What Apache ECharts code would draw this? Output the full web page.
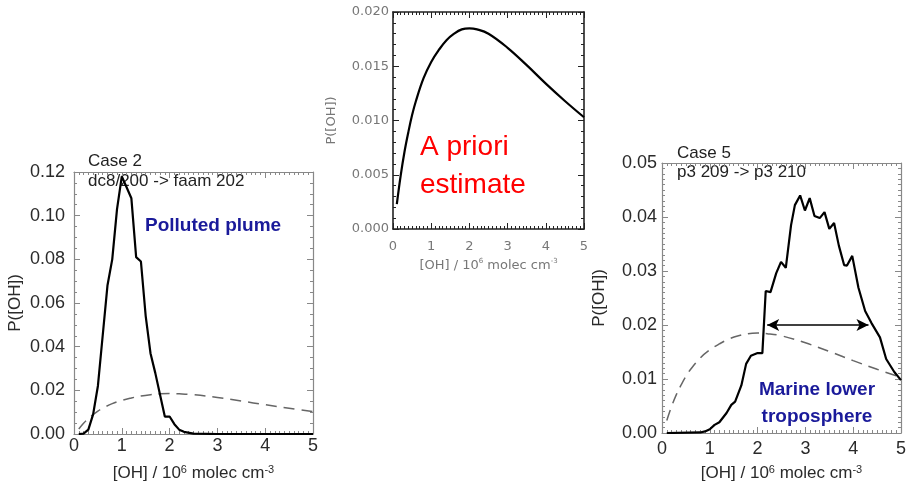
<!DOCTYPE html>
<html>
<head>
<meta charset="utf-8">
<script src="https://cdn.jsdelivr.net/npm/echarts@6/dist/echarts.min.js"></script>
<style>
  html, body { margin: 0; padding: 0; background: #fff; }
  #main { width: 909px; height: 487px; }
</style>
</head>
<body>
<div id="main"></div>
<script>
// a priori curve (same in all three panels)
var priorX = [0.1, 0.2, 0.3, 0.4, 0.5, 0.6, 0.8, 1.0, 1.2, 1.4, 1.6, 1.8, 2.0, 2.2, 2.5, 3.0, 3.5, 4.0, 4.5, 5.0];
var priorY = [0.0023, 0.0049, 0.0071, 0.0089, 0.0105, 0.0118, 0.0139, 0.0154, 0.0165, 0.0174, 0.0180, 0.0184, 0.0185, 0.0184, 0.0180, 0.0167, 0.0151, 0.0134, 0.0118, 0.0103];

// Case 2 : dc8/200 -> faam 202
var case2X = [0.1, 0.2, 0.3, 0.4, 0.5, 0.6, 0.7, 0.8, 0.9, 1.0, 1.1, 1.2, 1.3, 1.4, 1.5, 1.6, 1.7, 1.8, 1.9, 2.0, 2.1, 2.2, 2.3, 2.5, 3.0, 4.0, 5.0];
var case2Y = [0, 0.0002, 0.002, 0.009, 0.022, 0.045, 0.068, 0.080, 0.103, 0.118, 0.113, 0.108, 0.081, 0.079, 0.054, 0.037, 0.028, 0.018, 0.008, 0.008, 0.0045, 0.002, 0.001, 0.0002, 0, 0, 0];

// Case 5 : p3 209 -> p3 210
var case5X = [0.1, 0.8, 0.9, 1.0, 1.1, 1.2, 1.35, 1.45, 1.53, 1.66, 1.76, 1.86, 2.0, 2.1, 2.17, 2.27, 2.39, 2.49, 2.59, 2.7,
              2.78, 2.89, 2.99, 3.09, 3.19, 3.3, 3.4, 3.5, 3.6, 3.7, 3.81, 3.87, 3.98, 4.11, 4.25, 4.38, 4.56, 4.69, 4.86, 5.0];
var case5Y = [0, 0.0001, 0.0003, 0.0007, 0.0015, 0.002, 0.0037, 0.0052, 0.0058, 0.0088, 0.0128, 0.0143, 0.0148, 0.0148, 0.0263, 0.0261, 0.0296, 0.0317, 0.0306, 0.0385,
              0.0422, 0.0440, 0.0412, 0.0435, 0.0402, 0.0398, 0.0409, 0.0378, 0.0389, 0.0347, 0.0311, 0.0310, 0.0328, 0.0269, 0.0226, 0.0204, 0.0177, 0.0137, 0.0113, 0.0098];

// width arrow on case 5
var arrowX = [2.2, 4.32];
var arrowY = 0.02;

var xTicks = [0, 5, 1];
var yTicks2 = [0, 0.12, 0.02];
var yTicksPrior = [0, 0.02, 0.005];
var yTicks5 = [0, 0.05, 0.01];

function zip(xs, ys) {
    var out = [];
    for (var i = 0; i < xs.length; i++) out.push([xs[i], ys[i]]);
    return out;
}

var xName = '[OH] / 10{s|6} molec cm{s|-3}';

function axes(g, xt, yt, dec, st) {
    // st: style for this panel
    var line = { show: true, onZero: false, lineStyle: { color: st.axisColor, width: st.axisWidth } };
    var tick = { show: true, inside: true, length: 6, lineStyle: { color: st.axisColor } };
    var xMinor = { show: true, splitNumber: 10, length: 3, lineStyle: { color: st.axisColor } };
    var yMinor = { show: true, splitNumber: st.yMinor, length: 3, lineStyle: { color: st.axisColor } };
    var xs = [{
        type: 'value', gridIndex: g, min: xt[0], max: xt[1], interval: xt[2],
        axisLine: line, axisTick: tick, minorTick: xMinor,
        splitLine: { show: false },
        axisLabel: { fontFamily: st.font, fontSize: st.labelSize, color: st.labelColor, margin: st.xMargin },
        name: xName, nameLocation: 'middle', nameGap: st.xNameGap,
        nameTextStyle: {
            fontFamily: st.font, fontSize: st.nameSize, color: st.labelColor,
            rich: { s: { fontFamily: st.font, fontSize: st.nameSize - 6, color: st.labelColor, verticalAlign: 'top', padding: [0, 0, 8, 0] } }
        }
    }, {
        type: 'value', gridIndex: g, position: 'top', min: xt[0], max: xt[1], interval: xt[2],
        axisLine: line, axisTick: tick, minorTick: xMinor,
        splitLine: { show: false }, axisLabel: { show: false }
    }];
    var ys = [{
        type: 'value', gridIndex: g, min: yt[0], max: yt[1], interval: yt[2],
        axisLine: line, axisTick: tick, minorTick: yMinor,
        splitLine: { show: false },
        axisLabel: {
            fontFamily: st.font, fontSize: st.labelSize, color: st.labelColor, margin: st.yMargin,
            formatter: function (v) { return v.toFixed(dec); }
        },
        name: 'P([OH])', nameLocation: 'middle', nameGap: st.yNameGap,
        nameTextStyle: { fontFamily: st.font, fontSize: st.nameSize, color: st.labelColor }
    }, {
        type: 'value', gridIndex: g, position: 'right', min: yt[0], max: yt[1], interval: yt[2],
        axisLine: line, axisTick: tick, minorTick: yMinor,
        splitLine: { show: false }, axisLabel: { show: false }
    }];
    return { x: xs, y: ys };
}

var side = { font: 'Liberation Sans', labelSize: 18, nameSize: 17, labelColor: '#2a2a2a', axisColor: '#888', axisWidth: 1.2 };
var a0 = axes(0, xTicks, yTicks2, 2, Object.assign({}, side, { xMargin: 3, yMargin: 9, xNameGap: 30, yNameGap: 50, yMinor: 4 }));
var a1 = axes(1, xTicks, yTicksPrior, 3, { font: 'DejaVu Sans', labelSize: 13, nameSize: 13, labelColor: '#777', axisColor: '#222', axisWidth: 1.6,
    xMargin: 11, yMargin: 4, xNameGap: 29, yNameGap: 55, yMinor: 5 });
var a2 = axes(2, xTicks, yTicks5, 2, Object.assign({}, side, { xMargin: 7, yMargin: 5, xNameGap: 31, yNameGap: 54, yMinor: 10 }));

var solid = { color: '#000', width: 2.2 };
var dashed = { color: '#666', width: 1.5, type: [11, 7] };

var myChart = echarts.init(document.getElementById('main'));

option = {
    backgroundColor: '#fff',
    animation: false,
    grid: [
        { left: 74, top: 172, width: 239, height: 270 },
        { left: 393, top: 12, width: 191, height: 217 },
        { left: 662, top: 163, width: 243, height: 274 }
    ],
    xAxis: a0.x.concat(a1.x, a2.x),
    yAxis: a0.y.concat(a1.y, a2.y),
    series: [
        { type: 'line', xAxisIndex: 0, yAxisIndex: 0, data: zip(priorX, priorY), showSymbol: false, smooth: 0.4, lineStyle: dashed, z: 2 },
        { type: 'line', xAxisIndex: 0, yAxisIndex: 0, data: zip(case2X, case2Y), showSymbol: false, lineStyle: solid, z: 3 },
        { type: 'line', xAxisIndex: 2, yAxisIndex: 2, data: zip(priorX, priorY), showSymbol: false, smooth: 0.4, lineStyle: solid, z: 3 },
        { type: 'line', xAxisIndex: 4, yAxisIndex: 4, data: zip(priorX, priorY), showSymbol: false, smooth: 0.4, lineStyle: dashed, z: 2 },
        {
            type: 'line', xAxisIndex: 4, yAxisIndex: 4, data: zip(case5X, case5Y), showSymbol: false, lineStyle: solid, z: 3,
            markLine: {
                silent: true, symbol: ['arrow', 'arrow'], symbolSize: [9, 12],
                label: { show: false },
                lineStyle: { color: '#000', width: 1.5, type: 'solid' },
                data: [[{ coord: [arrowX[0], arrowY] }, { coord: [arrowX[1], arrowY] }]]
            }
        }
    ],
    graphic: [
        { type: 'text', left: 88, top: 153, style: { text: 'Case 2', font: '17px "Liberation Sans"', fill: '#222' } },
        { type: 'text', left: 88, top: 173, style: { text: 'dc8/200 -> faam 202', font: '17px "Liberation Sans"', fill: '#222' } },
        { type: 'text', left: 145, top: 216, style: { text: 'Polluted plume', font: 'bold 19px "Liberation Sans"', fill: '#1a1a9a' } },
        { type: 'text', left: 420, top: 128, style: { text: 'A priori\nestimate', font: '28px "Liberation Sans"', lineHeight: 38, fill: '#ff0000' } },
        { type: 'text', left: 677, top: 145, style: { text: 'Case 5', font: '17px "Liberation Sans"', fill: '#222' } },
        { type: 'text', left: 677, top: 164, style: { text: 'p3 209 -> p3 210', font: '17px "Liberation Sans"', fill: '#222' } },
        { type: 'text', x: 817, y: 376, style: { text: 'Marine lower\ntroposphere', font: 'bold 19px "Liberation Sans"', lineHeight: 27, fill: '#1a1a9a', align: 'center' } }
    ]
};

myChart.setOption(option);
</script>
</body>
</html>
